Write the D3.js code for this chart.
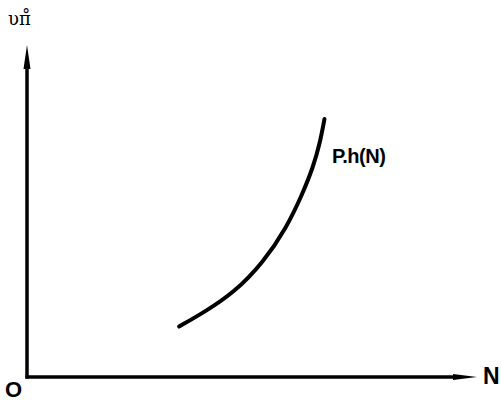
<!DOCTYPE html>
<html>
<head>
<meta charset="utf-8">
<script src="https://cdn.jsdelivr.net/npm/d3@7"></script>
<style>
  body{margin:0;background:#fff;}
  .axis{stroke:#000;stroke-width:3.5;fill:none;}
  #curve{fill:none;stroke:#000;stroke-width:4;stroke-linecap:round;}
  text{font-family:"Liberation Sans",Arial,sans-serif;fill:#000;}
</style>
</head>
<body>
<script>
var w=502,h=401;

// curve samples (arbitrary units, 0..100 on each axis)
var nValues=[33.8,39.5,46.0,52.5,57.7,61.3,63.6,65.1,66.1];
var yValues=[15.2,19.6,25.4,34.5,45.0,55.4,63.3,70.5,77.7];
var curveLabel='P.h(N)';
var xLabel='N', yLabel='υπ̊', originLabel='O';

var svg=d3.select('body').append('svg').attr('width',w).attr('height',h);

var x=d3.scaleLinear().domain([0,100]).range([27,477]);
var y=d3.scaleLinear().domain([0,100]).range([377,45]);

// axes
svg.append('line').attr('class','axis')
    .attr('x1',x(0)).attr('y1',y(0)+1.5).attr('x2',x(0)).attr('y2',y(93));
svg.append('line').attr('class','axis')
    .attr('x1',x(0)-1.5).attr('y1',y(0)).attr('x2',x(95)).attr('y2',y(0));

// arrow heads (long and narrow)
svg.append('path')
    .attr('d','M'+x(0)+' '+y(100)+' L'+(x(0)+3.5)+' '+(y(100)+24)+' L'+(x(0)-3.5)+' '+(y(100)+24)+' Z')
    .attr('fill','#000');
svg.append('path')
    .attr('d','M'+x(100)+' '+y(0)+' L'+(x(100)-24)+' '+(y(0)-3)+' L'+(x(100)-24)+' '+(y(0)+3)+' Z')
    .attr('fill','#000');

// curve
var pts=nValues.map(function(d,i){return [d,yValues[i]];});
var line=d3.line().x(function(d){return x(d[0]);}).y(function(d){return y(d[1]);})
    .curve(d3.curveBasis);
svg.append('path').attr('id','curve').attr('d',line(pts));

// labels
svg.append('text').attr('x',332).attr('y',163).attr('font-size',20)
    .attr('font-weight','bold').attr('letter-spacing',-0.5).text(curveLabel);
svg.append('text').attr('x',483).attr('y',384).attr('font-size',23)
    .attr('font-weight','bold').text(xLabel);
svg.append('text').attr('x',5).attr('y',397).attr('font-size',22)
    .attr('font-weight','bold').text(originLabel);
svg.append('text').attr('x',8).attr('y',25).attr('font-size',18)
    .style('font-family','"DejaVu Serif",serif').text(yLabel);
</script>
</body>
</html>
